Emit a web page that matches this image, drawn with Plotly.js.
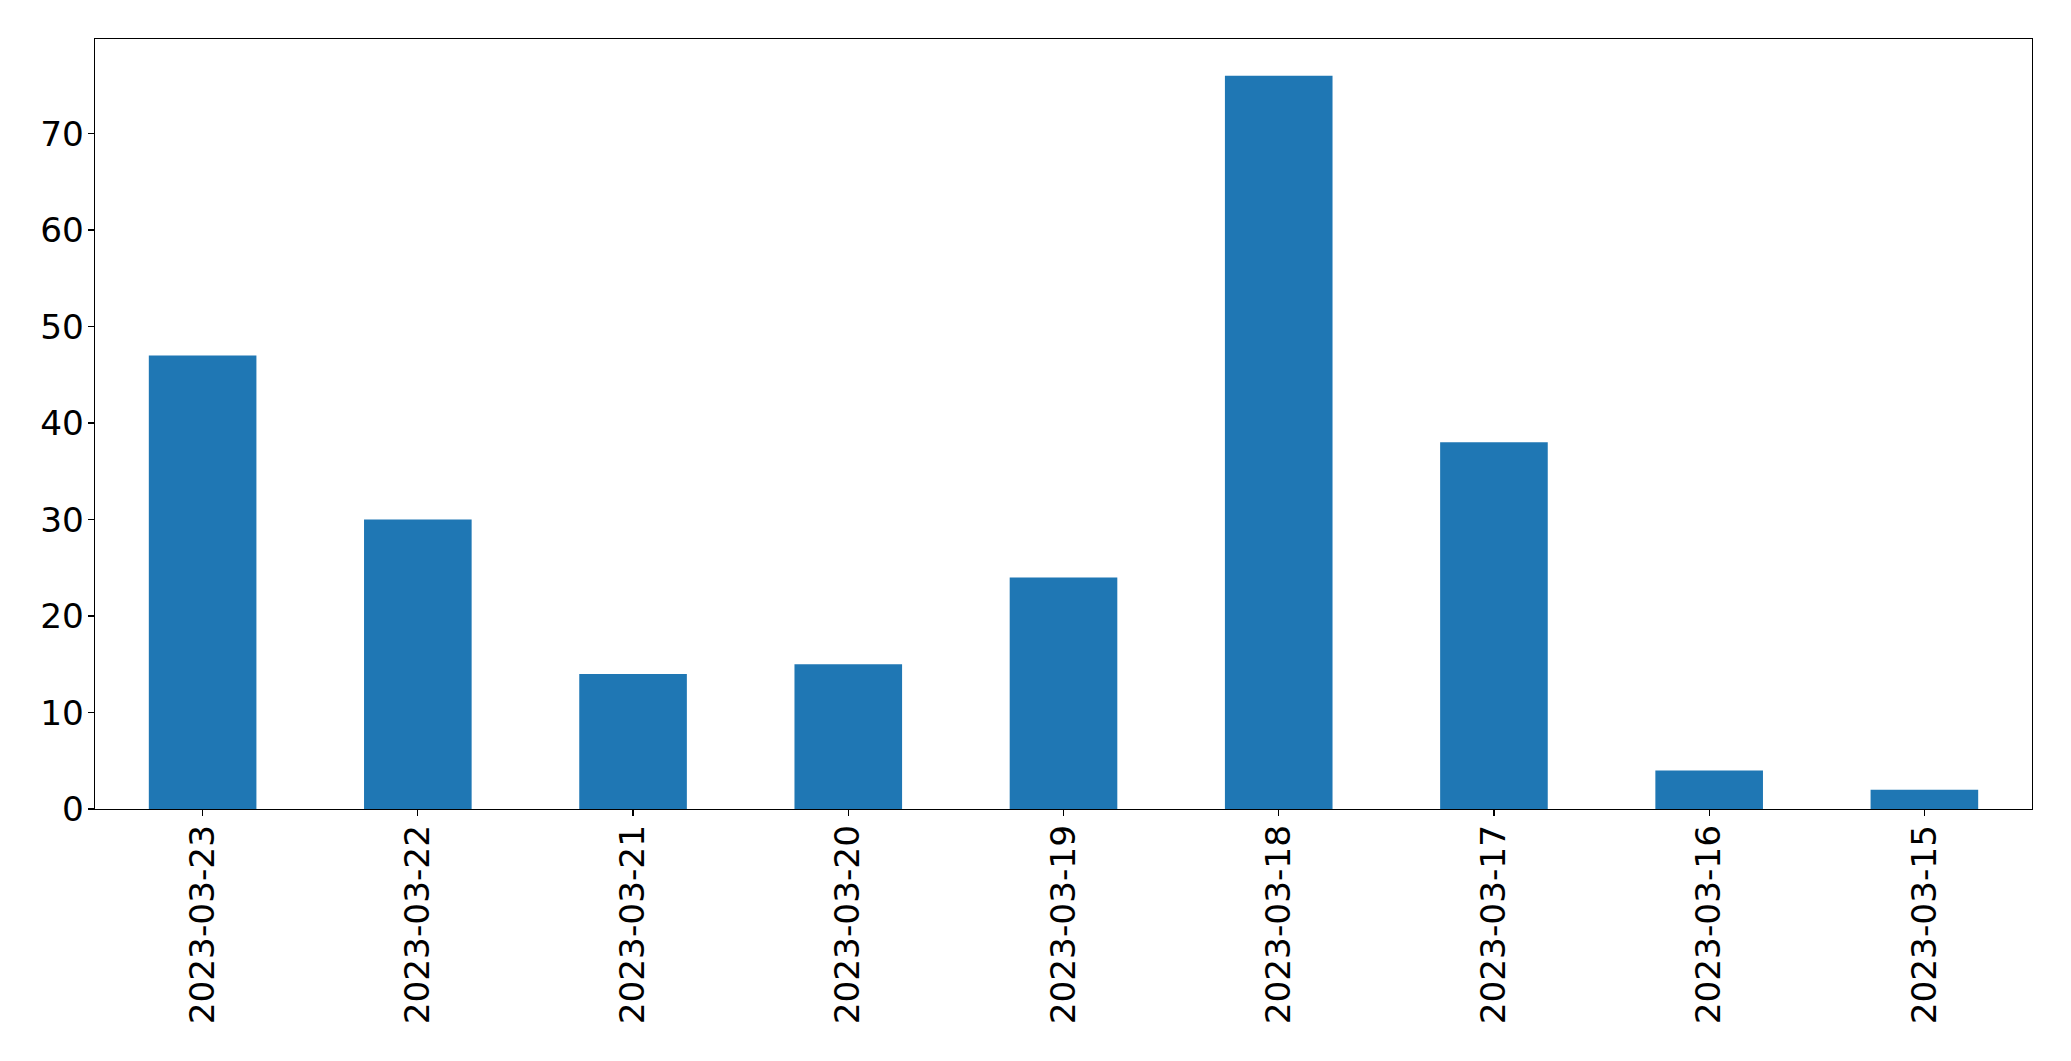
<!DOCTYPE html>
<html>
<head>
<meta charset="utf-8">
<script src="https://cdn.plot.ly/plotly-3.0.1.min.js"></script>
<style>html,body{margin:0;padding:0;background:#fff;}#chart{width:2071px;height:1061px;}</style>
</head>
<body>
<div id="chart"></div>
<script>
const dates = ["2023-03-23","2023-03-22","2023-03-21","2023-03-20","2023-03-19","2023-03-18","2023-03-17","2023-03-16","2023-03-15"];
const counts = [47, 30, 14, 15, 24, 76, 38, 4, 2];
const yTicks = [0, 10, 20, 30, 40, 50, 60, 70];

const trace = {
  type: 'bar',
  x: dates,
  y: counts,
  width: 0.5,
  marker: {color: '#1f77b4', line: {width: 0}},
  hoverinfo: 'x+y'
};

const axisCommon = {
  showline: true, mirror: true, linecolor: '#000', linewidth: 1.3,
  ticks: 'outside', ticklen: 6, tickwidth: 1.3, tickcolor: '#000',
  showgrid: false, zeroline: false,
  tickfont: {family: 'DejaVu Sans', size: 34.3, color: '#000'}
};

const layout = {
  width: 2071, height: 1061,
  margin: {l: 95, r: 39, t: 39, b: 252, pad: 0},
  paper_bgcolor: '#fff', plot_bgcolor: '#fff',
  showlegend: false,
  xaxis: Object.assign({}, axisCommon, {
    type: 'category', range: [-0.5, 8.5], tickangle: -90, ticklabelstandoff: -5
  }),
  yaxis: Object.assign({}, axisCommon, {
    range: [0, 79.8], tickvals: yTicks, ticktext: yTicks.map(String), ticklabelstandoff: -3
  })
};

Plotly.newPlot('chart', [trace], layout, {displayModeBar: false, staticPlot: true});
</script>
</body>
</html>
